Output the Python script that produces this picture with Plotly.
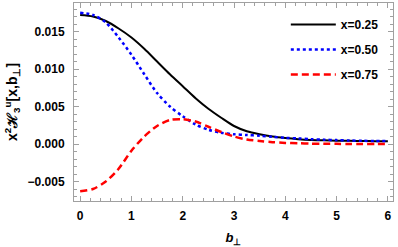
import plotly.graph_objects as go

b_perp = [0, 0.25, 0.5, 0.75, 1.0, 1.25, 1.5, 1.75, 2.0, 2.25, 2.5, 2.75, 3.0,
          3.25, 3.5, 3.75, 4.0, 4.25, 4.5, 4.75, 5.0, 5.25, 5.5, 5.75, 6.0]

h_x025 = [0.0172, 0.0170, 0.0164, 0.0154, 0.0142, 0.0127, 0.0110, 0.0093, 0.0077,
          0.0061, 0.0047, 0.0035, 0.0024, 0.0017, 0.0013, 0.0010, 0.0008, 0.00065,
          0.00055, 0.0005, 0.00045, 0.00042, 0.0004, 0.00038, 0.00036]

h_x050 = [0.0175, 0.0172, 0.0162, 0.0142, 0.0119, 0.0093, 0.0068, 0.0050, 0.0037,
          0.0026, 0.0019, 0.0015, 0.0013, 0.0012, 0.0011, 0.00095, 0.00082, 0.00075,
          0.00065, 0.00058, 0.00052, 0.00047, 0.00043, 0.0004, 0.00038]

h_x075 = [-0.0063, -0.0060, -0.0050, -0.0033, -0.0009, 0.0010, 0.0024, 0.0032, 0.0033,
          0.0030, 0.0023, 0.0016, 0.0010, 0.0006, 0.0004, 0.00025, 0.00015, 0.0001,
          0.00005, 0.00003, 0.00002, 0.00001, 0.0, 0.0, 0.0]

series = [
    ("x=0.25", h_x025, "black", "solid", 2),
    ("x=0.50", h_x050, "#0000ff", "dot", 2.5),
    ("x=0.75", h_x075, "#ff0000", "7px,4px", 2.5),
]

x_ticks = [0, 1, 2, 3, 4, 5, 6]
y_ticks = [-0.005, 0.0, 0.005, 0.010, 0.015]
y_tick_labels = ["\u22120.005", "0.000", "0.005", "0.010", "0.015"]

fig = go.Figure()
for i, (name, vals, color, dash, w) in enumerate(series):
    fig.add_trace(go.Scatter(
        x=b_perp, y=vals, mode="lines", name=name, legendgroup=str(i),
        line=dict(color=color, dash=dash, width=w, shape="spline", smoothing=0.8),
    ))

FAM = "Liberation Sans, Arial, sans-serif"

axis_common = dict(
    showline=True, linecolor="#a0a0a0", linewidth=1, mirror="allticks",
    ticks="inside", tickcolor="#a0a0a0", ticklen=5, tickwidth=1,
    showgrid=False, zeroline=False, automargin=False,
    ticklabeloverflow="allow",
    tickfont=dict(family=FAM, size=12, color="black", weight="bold"),
)

fig.update_xaxes(
    range=[-0.12, 6.1], tickvals=x_ticks, ticktext=[str(t) for t in x_ticks],
    minor=dict(dtick=0.2, ticks="inside", ticklen=3, tickcolor="#a0a0a0"),
    title=dict(text="<b><i>b</i><sub>\u22a5</sub></b>", font=dict(size=13), standoff=10),
    ticklabelstandoff=4,
    **axis_common,
)
fig.update_yaxes(
    range=[-0.0076, 0.0188], tickvals=y_ticks, ticktext=y_tick_labels,
    minor=dict(dtick=0.001, ticks="inside", ticklen=3, tickcolor="#a0a0a0"),
    title=dict(text="<b>x<sup>2</sup>\u210b<sub>3</sub><sup>u</sup>[x,b<sub>\u22a5</sub>]</b>",
               font=dict(size=14), standoff=6),
    ticklabelstandoff=6,
    **axis_common,
)

fig.update_layout(
    width=398, height=247,
    margin=dict(l=74, r=5, t=3, b=46, autoexpand=False),
    plot_bgcolor="white", paper_bgcolor="white",
    font=dict(family=FAM, size=12, color="black"),
    showlegend=True,
    legend=dict(x=0.664, y=0.965, xanchor="left", yanchor="top",
                bgcolor="rgba(0,0,0,0)", font=dict(size=12, weight="bold"),
                tracegroupgap=6, itemwidth=45),
)

fig.write_html("out.html", config={"displayModeBar": False},
               post_script="document.body.style.margin='0px';document.body.style.overflow='hidden';")
